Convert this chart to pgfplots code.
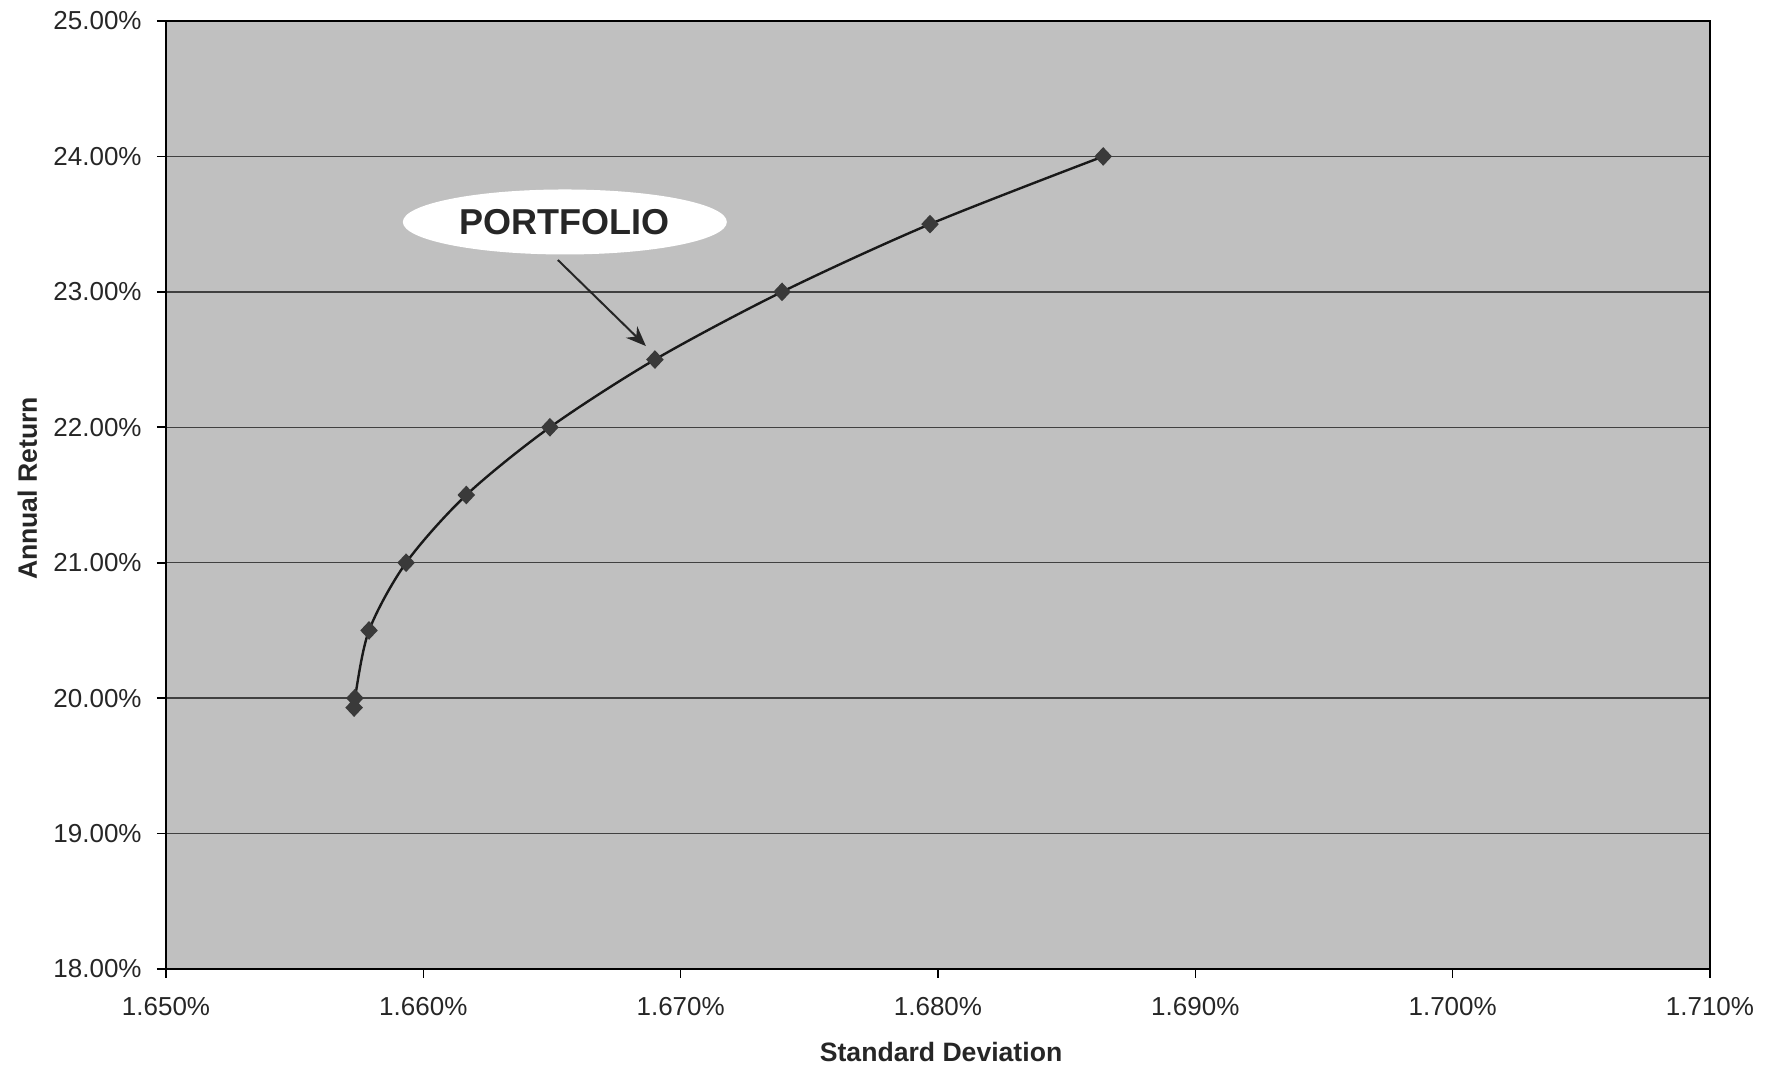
\documentclass[border=0pt]{standalone}
\usepackage{pgfplots}
\pgfplotsset{compat=1.18}
\usepackage{fontspec}
\setmainfont{Liberation Sans}
\usetikzlibrary{shapes.geometric,arrows.meta}
\definecolor{plotbg}{RGB}{192,192,192}
\definecolor{markgray}{RGB}{58,58,58}

% Efficient frontier: standard deviation (%) vs annual return (%)
\pgfplotstableread{
sd       ret
1.65731  19.93
1.65734  20.00
1.65789  20.50
1.65933  21.00
1.66167  21.50
1.66492  22.00
1.66900  22.50
1.67394  23.00
1.67969  23.50
1.68642  24.00
}\frontier

\begin{document}
\begin{tikzpicture}
\useasboundingbox (-83pt,-51pt) rectangle (804pt,484.5pt);
\begin{axis}[
  at={(0pt,0pt)}, anchor=south west,
  scale only axis, width=772pt, height=474pt,
  xmin=1.65, xmax=1.71, ymin=18, ymax=25,
  xtick={1.65,1.66,1.67,1.68,1.69,1.70,1.71},
  xticklabels={1.650\%,1.660\%,1.670\%,1.680\%,1.690\%,1.700\%,1.710\%},
  ytick={18,19,20,21,22,23,24,25},
  yticklabels={18.00\%,19.00\%,20.00\%,21.00\%,22.00\%,23.00\%,24.00\%,25.00\%},
  xtick pos=left, ytick pos=left,
  tick align=outside, major tick length=4.5pt,
  tick style={black, line width=0.8pt},
  ymajorgrids, major grid style={black!75, line width=0.75pt},
  axis line style={black, line width=1.1pt},
  axis background/.style={fill=plotbg},
  tick label style={font=\fontsize{13}{15}\selectfont, text=black!85, inner sep=0pt},
  xticklabel shift=9.5pt, yticklabel shift=7.5pt,
  xlabel={Standard Deviation}, ylabel={Annual Return},
  label style={font=\fontsize{13.3}{16}\selectfont\bfseries, text=black!85},
  xlabel style={at={(axis description cs:0.502,-0.0981)}, anchor=base},
  ylabel style={at={(axis description cs:-0.0836,0.507)}, anchor=base},
]
\addplot[smooth, black!90, line width=1.2pt, mark=diamond*, mark size=3.8pt,
  mark options={fill=markgray, draw=markgray, solid, xscale=1.25}] table[x=sd, y=ret] {\frontier};

\node[ellipse, fill=white, minimum width=162pt, minimum height=32.5pt, inner sep=0pt,
  font=\fontsize{18}{20}\selectfont\bfseries, text=black!85]
  at (axis cs:1.6655,23.516) {PORTFOLIO};
\draw[-{Stealth[length=10pt,width=8pt]}, line width=1pt, black!85]
  (axis cs:1.66523,23.235) -- (axis cs:1.66865,22.60);
\end{axis}
\end{tikzpicture}
\end{document}
